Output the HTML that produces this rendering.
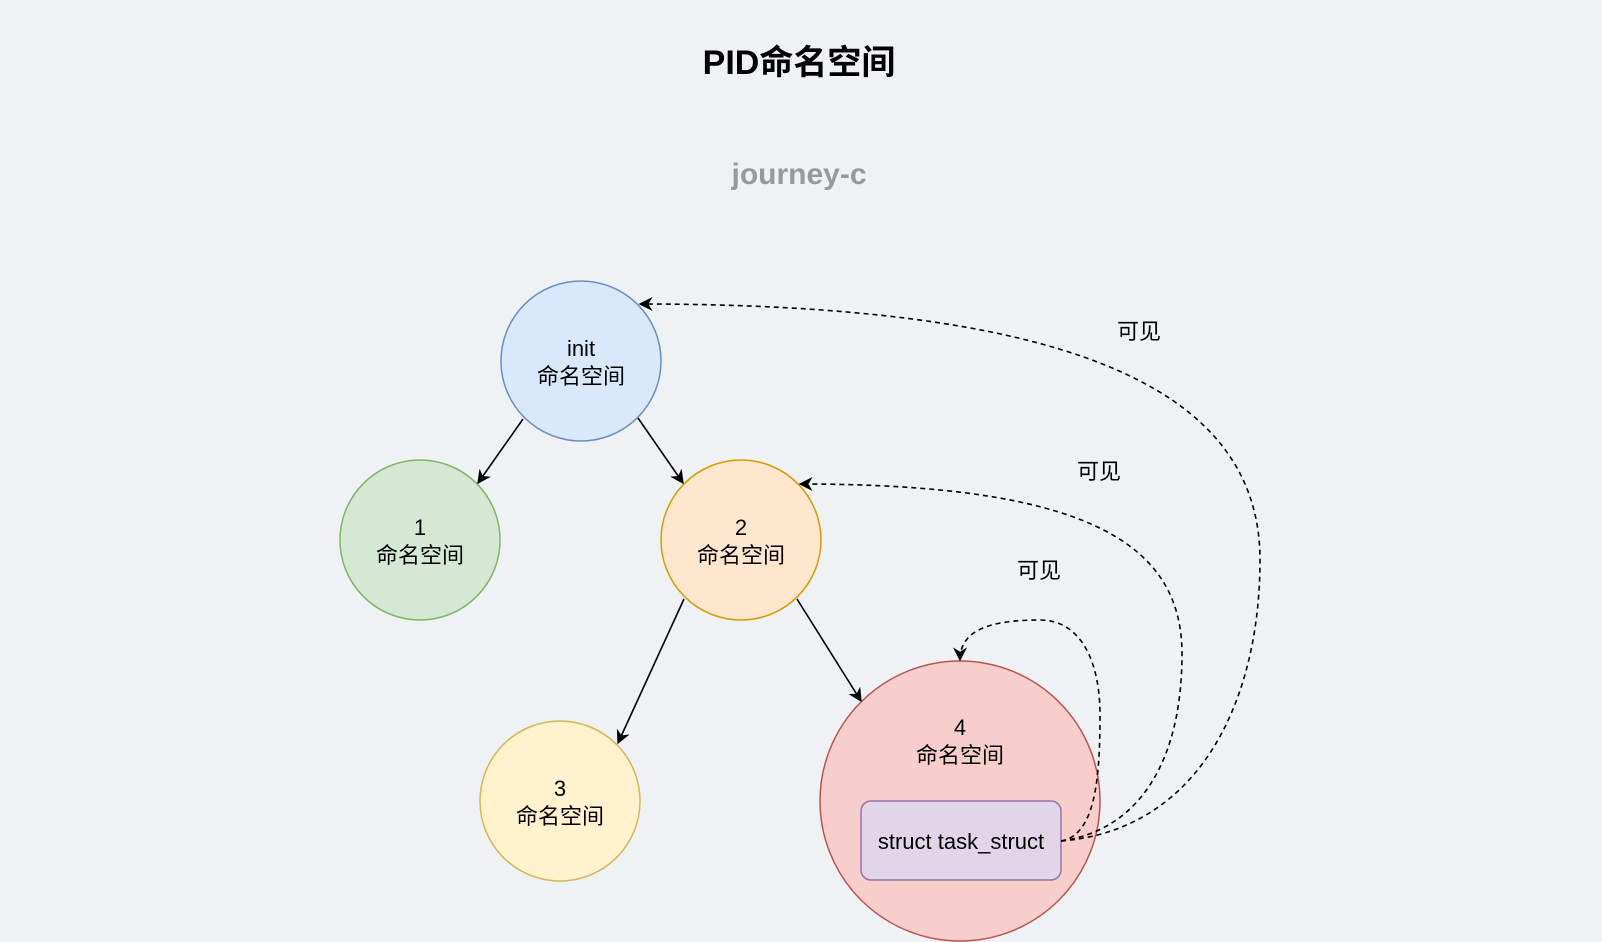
<!DOCTYPE html>
<html><head><meta charset="utf-8"><style>
html,body{margin:0;padding:0;background:#eef2f5;}
svg{display:block;}
</style></head><body>
<svg width="1602" height="942" viewBox="0 0 1602 942" xmlns="http://www.w3.org/2000/svg">
<defs>
<marker id="a" viewBox="0 0 10 10" refX="9" refY="5" markerWidth="14" markerHeight="14" orient="auto" markerUnits="userSpaceOnUse"><path d="M0,0 L10,5 L0,10 L3,5 Z" fill="#000"/></marker>
</defs>
<rect width="1602" height="942" fill="#eef2f5"/>
<text x="799" y="74" text-anchor="middle" font-family="'Comic Sans MS','Liberation Sans','Noto Sans CJK SC',sans-serif" font-size="34" font-weight="600" fill="#000">PID命名空间</text>
<text x="799" y="184" text-anchor="middle" font-family="'Comic Sans MS','Liberation Sans',sans-serif" font-size="30" font-weight="bold" fill="#999">journey-c</text>

<g stroke-width="1.5">
<circle cx="581" cy="361" r="80" fill="#dae8fc" stroke="#6c8ebf"/>
<circle cx="420" cy="540" r="80" fill="#d5e8d4" stroke="#82b366"/>
<circle cx="741" cy="540" r="80" fill="#ffe6cc" stroke="#d79b00"/>
<circle cx="560" cy="801" r="80" fill="#fff2cc" stroke="#d6b656"/>
<circle cx="960" cy="801" r="140" fill="#f8cecc" stroke="#b85450"/>
<rect x="861" y="801" width="200" height="79" rx="10" fill="#e1d5e7" stroke="#9673a6"/>
</g>

<g stroke="#000" stroke-width="1.6" fill="none" marker-end="url(#a)">
<line x1="523" y1="419" x2="478" y2="483"/>
<line x1="638" y1="418" x2="683" y2="483"/>
<line x1="684" y1="599" x2="618" y2="743"/>
<line x1="797" y1="599" x2="861" y2="701"/>
</g>
<g stroke="#000" stroke-width="1.6" fill="none" stroke-dasharray="5,4" marker-end="url(#a)">
<path d="M1061,841 C1200,830 1260,700 1260,560 C1260,380 1050,304 640,304"/>
<path d="M1061,841 C1140,830 1182,760 1182,654 C1182,540 1080,484 800,484"/>
<path d="M1061,841 C1095,835 1100,780 1100,715 C1100,660 1080,620 1040,620 C990,620 960,630 960,660"/>
</g>

<g font-family="'Liberation Sans','Noto Sans CJK SC',sans-serif" font-size="22" text-anchor="middle" fill="#000">
<text x="581" y="356">init</text><text x="581" y="384">命名空间</text>
<text x="420" y="535">1</text><text x="420" y="563">命名空间</text>
<text x="741" y="535">2</text><text x="741" y="563">命名空间</text>
<text x="560" y="796">3</text><text x="560" y="824">命名空间</text>
<text x="960" y="735">4</text><text x="960" y="763">命名空间</text>
<text x="961" y="849">struct task_struct</text>
<text x="1139" y="339">可见</text>
<text x="1099" y="479">可见</text>
<text x="1039" y="578">可见</text>
</g>
</svg>
</body></html>
